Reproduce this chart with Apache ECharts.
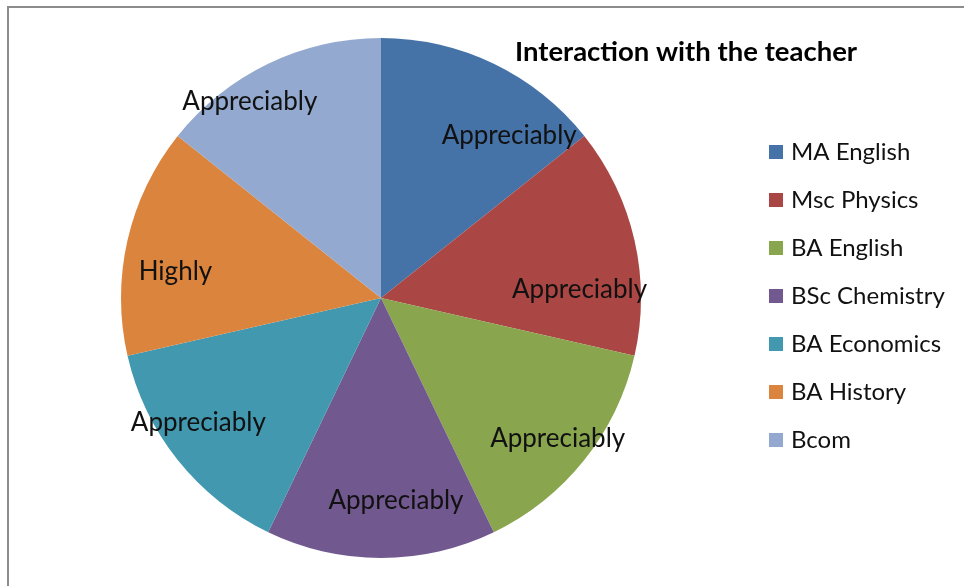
<!DOCTYPE html>
<html>
<head>
<meta charset="utf-8">
<script src="https://cdn.jsdelivr.net/npm/echarts@6/dist/echarts.min.js"></script>
<style>
  html, body { margin: 0; padding: 0; background: #fff; }
  #chart { width: 964px; height: 586px; }
</style>
</head>
<body>
<div id="chart"></div>
<script>
// programmes, one equal slice each
const categories = ['MA English', 'Msc Physics', 'BA English', 'BSc Chemistry', 'BA Economics', 'BA History', 'Bcom'];
const values = [1, 1, 1, 1, 1, 1, 1];
const ratings = ['Appreciably', 'Appreciably', 'Appreciably', 'Appreciably', 'Appreciably', 'Highly', 'Appreciably'];
const colors = ['#4572A7', '#AA4643', '#89A54E', '#71588F', '#4198AF', '#DB843D', '#93A9CF'];

const font = 'Lato, "Open Sans", sans-serif';
// small nudges so the labels sit where the original "best fit" put them
const labelNudge = [[34, 33], [-13, 40], [7, 5], [15, -14], [-13, -11], [6, 22], [-37, -1]];

let pieData = categories.map((name, i) => ({
  name: name,
  value: values[i],
  itemStyle: { color: colors[i] }
}));
// same slices, transparent, only used to place the labels further out
let labelData = categories.map((name, i) => ({
  name: name,
  value: values[i],
  rating: ratings[i]
}));

const chart = echarts.init(document.getElementById('chart'));
chart.setOption({
  animation: false,
  title: {
    text: 'Interaction with the teacher',
    left: 515,
    top: 38,
    padding: 0,
    textStyle: { fontFamily: font, fontSize: 27.5, fontWeight: 'bold', color: '#000' }
  },
  legend: {
    orient: 'vertical',
    left: 769,
    top: 140,
    padding: 0,
    itemWidth: 14,
    itemHeight: 14,
    itemGap: 24,
    icon: 'rect',
    data: categories,
    textStyle: { fontFamily: font, fontSize: 24, color: '#111', padding: [0, 0, 0, 3] },
    selectedMode: false
  },
  graphic: [{
    type: 'rect',
    shape: { x: 8, y: 7, width: 1000, height: 700 },
    style: { fill: 'none', stroke: '#8c8c8c', lineWidth: 2 },
    silent: true
  }],
  series: [
    {
      type: 'pie',
      center: [381, 298],
      radius: [0, 260],
      startAngle: 90,
      clockwise: true,
      label: { show: false },
      labelLine: { show: false },
      silent: true,
      data: pieData
    },
    {
      type: 'pie',
      center: [381, 298],
      radius: [168, 260],
      startAngle: 90,
      clockwise: true,
      itemStyle: { color: 'transparent' },
      silent: true,
      label: {
        show: true,
        position: 'inside',
        formatter: p => p.data.rating,
        fontFamily: font,
        fontSize: 26,
        color: '#111'
      },
      labelLine: { show: false },
      labelLayout: p => ({ dx: labelNudge[p.dataIndex][0], dy: labelNudge[p.dataIndex][1] }),
      data: labelData
    }
  ]
});
</script>
</body>
</html>
